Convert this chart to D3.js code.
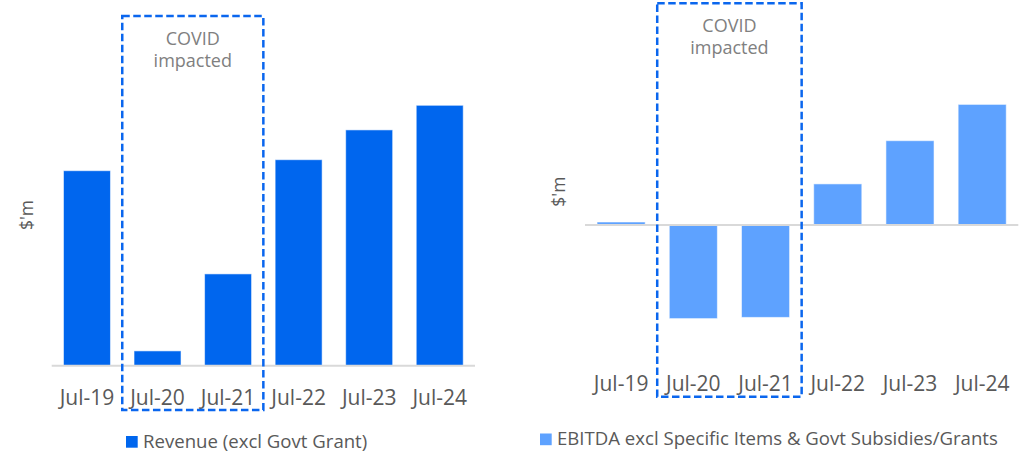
<!DOCTYPE html>
<html>
<head>
<meta charset="utf-8">
<script src="https://cdn.jsdelivr.net/npm/d3@7"></script>
<style>
  html, body { margin: 0; padding: 0; background: #fff; }
  svg { display: block; font-family: "Open Sans", "Noto Sans", sans-serif; }
</style>
</head>
<body>
<svg id="chart" width="1031" height="455"></svg>
<script>
// Financial years shown on both panels
const periods = ["Jul-19", "Jul-20", "Jul-21", "Jul-22", "Jul-23", "Jul-24"];
const covidPeriods = ["Jul-20", "Jul-21"];

// Revenue (excl Govt Grant), $m
const revenue = [97.5, 7.4, 45.9, 103.0, 117.9, 130.2];
// EBITDA excl Specific Items & Govt Subsidies/Grants, $m
const ebitda = [1.0, -31.2, -30.8, 13.7, 28.1, 40.2];

const revenueLabel = "Revenue (excl Govt Grant)";
const ebitdaLabel = "EBITDA excl Specific Items & Govt Subsidies/Grants";
const unitLabel = "$'m";
const covidLabel = ["COVID", "impacted"];

const svg = d3.select("#chart");
const textGrey = "#595959";
const noteGrey = "#808080";
const dashBlue = "#0a66ee";

function panel(opts) {
  const g = svg.append("g");
  const x = d3.scaleBand()
    .domain(periods)
    .range(opts.xRange)
    .paddingInner(0.334)
    .paddingOuter(0.167);
  const y = d3.scaleLinear().domain(opts.yDomain).range(opts.yRange);

  // bars
  g.selectAll("rect.bar")
    .data(opts.values.map((v, i) => ({ p: periods[i], v })))
    .join("rect")
    .attr("class", "bar")
    .attr("x", d => x(d.p))
    .attr("width", x.bandwidth())
    .attr("y", d => Math.min(y(0), y(d.v)))
    .attr("height", d => Math.abs(y(d.v) - y(0)))
    .attr("fill", opts.color)
    .attr("stroke", "rgba(255,255,255,0.55)")
    .attr("stroke-width", 1);

  // zero line
  g.append("line")
    .attr("x1", opts.xRange[0]).attr("x2", opts.xRange[1])
    .attr("y1", y(0)).attr("y2", y(0))
    .attr("stroke", "#d9d9d9").attr("stroke-width", 2);

  // category labels along the bottom
  const axis = d3.axisBottom(x).tickSize(0).tickPadding(0);
  const ax = g.append("g")
    .attr("transform", `translate(0,${opts.labelY})`)
    .call(axis);
  ax.select(".domain").remove();
  ax.selectAll("text")
    .attr("dy", 0)
    .attr("font-size", 21)
    .attr("fill", textGrey)
    .attr("font-family", "'Open Sans', sans-serif");

  // unit label
  g.append("text")
    .attr("transform", `translate(${opts.unitPos[0]},${opts.unitPos[1]}) rotate(-90)`)
    .attr("text-anchor", "middle")
    .attr("font-size", 17.5)
    .attr("fill", textGrey)
    .text(unitLabel);

  // COVID period outline
  const bx0 = x(covidPeriods[0]) - (x.step() - x.bandwidth()) / 2;
  const bx1 = x(covidPeriods[covidPeriods.length - 1]) + x.bandwidth() + (x.step() - x.bandwidth()) / 2;
  g.append("rect")
    .attr("x", bx0)
    .attr("y", opts.boxY[0])
    .attr("width", bx1 - bx0)
    .attr("height", opts.boxY[1] - opts.boxY[0])
    .attr("fill", "none")
    .attr("stroke", dashBlue)
    .attr("stroke-width", 2.5)
    .attr("stroke-dasharray", "7.5,3.5");

  const cx = (bx0 + bx1) / 2;
  g.selectAll("text.note")
    .data(covidLabel)
    .join("text")
    .attr("class", "note")
    .attr("x", cx)
    .attr("y", (d, i) => opts.noteY + i * 22)
    .attr("text-anchor", "middle")
    .attr("font-size", 18)
    .attr("fill", noteGrey)
    .text(d => d);

  // legend
  const lg = g.append("g").attr("transform", `translate(${opts.legend[0]},${opts.legend[1]})`);
  lg.append("rect").attr("x", 0).attr("y", -11.5).attr("width", 11.7).attr("height", 11.7).attr("fill", opts.color);
  lg.append("text").attr("x", 17).attr("y", 0)
    .attr("font-size", 18.6).attr("fill", textGrey).text(opts.legendText);
}

panel({
  values: revenue,
  color: "#0066ee",
  xRange: [51.7, 475],
  yDomain: [0, 175],
  yRange: [365.7, 15.7],
  labelY: 405,
  unitPos: [33, 215],
  boxY: [16, 410],
  noteY: 44.5,
  legend: [126, 447.5],
  legendText: revenueLabel
});

panel({
  values: ebitda,
  color: "#5ea2ff",
  xRange: [585, 1018.3],
  yDomain: [-55, 70],
  yRange: [390, 15],
  labelY: 390.7,
  unitPos: [565, 191.7],
  boxY: [3.3, 396.7],
  noteY: 31.5,
  legend: [540, 445],
  legendText: ebitdaLabel
});
</script>
</body>
</html>
